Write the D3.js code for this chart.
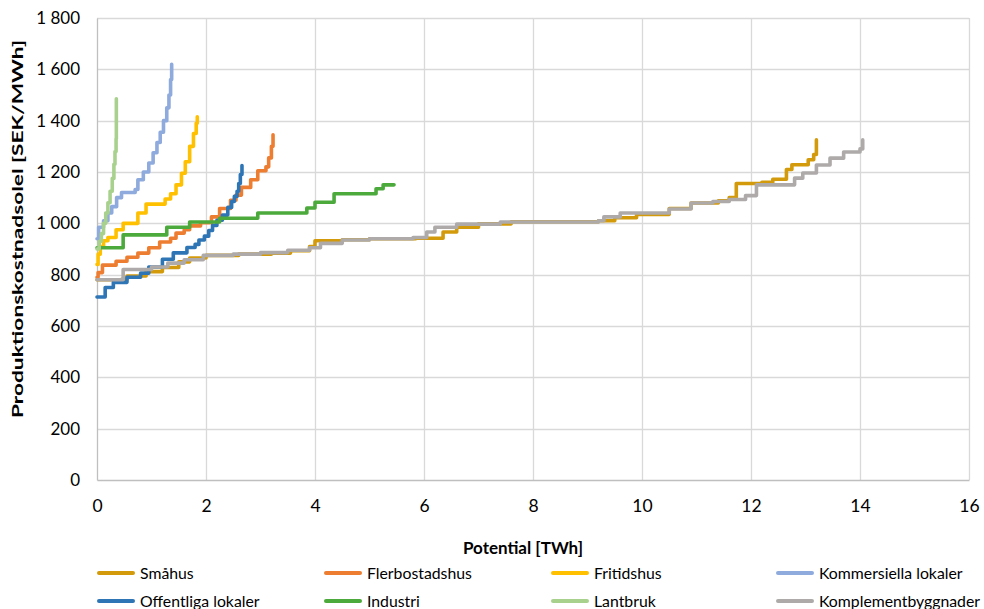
<!DOCTYPE html>
<html>
<head>
<meta charset="utf-8">
<script src="https://cdn.jsdelivr.net/npm/d3@7"></script>
<style>
  body { margin: 0; background: #fff; }
  svg text { font-family: Lato, "Open Sans", sans-serif; fill: #000; }
</style>
</head>
<body>
<svg id="chart" width="984" height="609"></svg>
<script>
// potential [TWh], production cost [SEK/MWh] -- each point starts a step
var smahus = [[0,780],[0.45,782],[0.55,795],[0.9,812],[1.2,828],[1.5,850],[1.7,865],[2.0,875],[2.6,880],[3.2,884],[3.55,893],[3.9,910],[4.0,932],[4.5,936],[5.0,940],[5.85,942],[6.35,966],[6.6,985],[7.0,998],[7.6,1006],[9.2,1010],[9.5,1022],[9.9,1035],[10.5,1058],[10.9,1079],[11.4,1088],[11.6,1100],[11.73,1155],[12.2,1160],[12.4,1172],[12.65,1210],[12.75,1228],[13.05,1248],[13.15,1268],[13.2,1325]];
var flerbostadshus = [[0,790],[0.02,808],[0.1,837],[0.35,852],[0.55,868],[0.75,884],[0.95,905],[1.15,927],[1.35,942],[1.45,962],[1.6,975],[1.7,990],[1.9,1002],[2.1,1025],[2.25,1058],[2.45,1090],[2.55,1110],[2.65,1140],[2.82,1170],[2.95,1205],[3.1,1220],[3.15,1255],[3.2,1300],[3.23,1345]];
var fritidshus = [[0,840],[0.02,880],[0.06,910],[0.12,932],[0.2,945],[0.35,975],[0.48,1000],[0.75,1040],[0.9,1075],[1.25,1095],[1.35,1115],[1.45,1150],[1.55,1195],[1.62,1240],[1.7,1300],[1.77,1350],[1.82,1390],[1.84,1415]];
var kommersiella = [[0,940],[0.03,985],[0.12,1010],[0.2,1040],[0.27,1065],[0.36,1100],[0.45,1120],[0.7,1132],[0.75,1170],[0.85,1200],[0.95,1235],[1.03,1275],[1.1,1315],[1.16,1355],[1.22,1400],[1.28,1450],[1.32,1500],[1.35,1560],[1.37,1620]];
var offentliga = [[0,713],[0.15,750],[0.3,770],[0.55,790],[0.8,806],[0.95,830],[1.2,860],[1.4,885],[1.65,906],[1.8,918],[1.87,935],[1.97,950],[2.05,972],[2.12,992],[2.2,1012],[2.3,1032],[2.4,1062],[2.47,1085],[2.52,1105],[2.57,1125],[2.6,1155],[2.63,1190],[2.66,1225]];
var industri = [[0,905],[0.48,955],[1.28,985],[1.7,1005],[2.25,1020],[2.95,1040],[3.85,1060],[4.0,1082],[4.35,1115],[5.12,1135],[5.25,1150],[5.45,1150]];
var lantbruk = [[0,900],[0.04,930],[0.08,960],[0.12,1000],[0.16,1040],[0.2,1080],[0.24,1125],[0.28,1175],[0.31,1230],[0.33,1280],[0.35,1330],[0.355,1485]];
var komplement = [[0,780],[0.45,780],[0.48,820],[1.0,830],[1.3,845],[1.6,858],[1.95,875],[2.5,880],[3.0,886],[3.5,895],[3.9,905],[4.1,922],[4.5,935],[5.0,940],[5.8,945],[6.05,966],[6.2,985],[6.6,997],[7.4,1005],[9.2,1010],[9.3,1025],[9.6,1040],[10.5,1056],[10.9,1079],[11.3,1085],[11.6,1093],[11.9,1108],[12.1,1150],[12.8,1176],[12.95,1196],[13.2,1227],[13.45,1254],[13.7,1278],[14.0,1290],[14.05,1325]];

var seriesNames = ['Småhus', 'Flerbostadshus', 'Fritidshus', 'Kommersiella lokaler',
  'Offentliga lokaler', 'Industri', 'Lantbruk', 'Komplementbyggnader'];
var seriesValues = [smahus, flerbostadshus, fritidshus, kommersiella,
  offentliga, industri, lantbruk, komplement];
var seriesColors = ['#D39A0B', '#ED7D31', '#FFC000', '#8FAADC',
  '#2E75B6', '#4CAA3C', '#A9D18E', '#AEAAAA'];

var xTicks = [0, 2, 4, 6, 8, 10, 12, 14, 16];
var yTicks = [0, 200, 400, 600, 800, 1000, 1200, 1400, 1600, 1800];

var svg = d3.select('#chart');
var margin = { top: 18, right: 15, bottom: 129, left: 97 };
var width = 984 - margin.left - margin.right;
var height = 609 - margin.top - margin.bottom;

var x = d3.scaleLinear().domain([0, 16]).range([0, width]);
var y = d3.scaleLinear().domain([0, 1800]).range([height, 0]);

var sv = d3.formatLocale({ decimal: ',', thousands: '\u00a0', grouping: [3], currency: ['', ' kr'] });
var fmt = sv.format(',');

var g = svg.append('g').attr('transform', `translate(${margin.left},${margin.top})`);

// grid
g.append('g')
  .selectAll('line')
  .data(yTicks.slice(1))
  .join('line')
  .attr('x1', 0)
  .attr('x2', width)
  .attr('y1', d => Math.round(y(d)) + 0.5)
  .attr('y2', d => Math.round(y(d)) + 0.5)
  .attr('stroke', '#D9D9D9')
  .attr('stroke-width', 1.3);
g.append('g')
  .selectAll('line')
  .data(xTicks.slice(1))
  .join('line')
  .attr('x1', d => Math.round(x(d)) + 0.5)
  .attr('x2', d => Math.round(x(d)) + 0.5)
  .attr('y1', 0)
  .attr('y2', height)
  .attr('stroke', '#D9D9D9')
  .attr('stroke-width', 1.3);

// axes
var xAxis = g.append('g')
  .attr('transform', `translate(0,${height})`)
  .call(d3.axisBottom(x).tickValues(xTicks).tickSize(0).tickPadding(20).tickFormat(d3.format('d')));
xAxis.select('.domain').attr('stroke', '#BFBFBF').attr('stroke-width', 1.3);
xAxis.selectAll('text').attr('font-size', 17.5).attr('font-family', 'Lato, sans-serif');

var yAxis = g.append('g')
  .call(d3.axisLeft(y).tickValues(yTicks).tickSize(0).tickPadding(17).tickFormat(fmt));
yAxis.select('.domain').attr('stroke', '#BFBFBF').attr('stroke-width', 1.3);
yAxis.selectAll('text').attr('font-size', 17).attr('font-family', 'Lato, sans-serif');

// series
var line = d3.line()
  .x(d => x(d[0]))
  .y(d => y(d[1]))
  .curve(d3.curveStepAfter);

g.append('g')
  .selectAll('path')
  .data(seriesValues)
  .join('path')
  .attr('d', line)
  .attr('fill', 'none')
  .attr('stroke', (d, i) => seriesColors[i])
  .attr('stroke-width', 3.6)
  .attr('stroke-linejoin', 'round')
  .attr('stroke-linecap', 'round');

// axis titles
svg.append('text')
  .attr('transform', 'translate(23,229) rotate(-90)')
  .attr('text-anchor', 'middle')
  .attr('font-size', 16)
  .attr('font-weight', 'bold')
  .attr('textLength', 378)
  .attr('lengthAdjust', 'spacingAndGlyphs')
  .text('Produktionskostnadsolel [SEK/MWh]');

svg.append('text')
  .attr('x', 523)
  .attr('y', 554)
  .attr('text-anchor', 'middle')
  .attr('font-size', 17)
  .attr('font-weight', 'bold')
  .text('Potential [TWh]');

// legend, 4 columns x 2 rows
var legendX = [97, 324, 551, 776];
var legendY = [573, 601];
var legend = svg.append('g')
  .selectAll('g')
  .data(seriesNames)
  .join('g')
  .attr('transform', (d, i) => `translate(${legendX[i % 4]},${legendY[Math.floor(i / 4)]})`);
legend.append('line')
  .attr('x1', 2)
  .attr('x2', 36)
  .attr('stroke', (d, i) => seriesColors[i])
  .attr('stroke-width', 4)
  .attr('stroke-linecap', 'round');
legend.append('text')
  .attr('x', 43)
  .attr('dy', '0.36em')
  .attr('font-size', 15.8)
  .text(d => d);
</script>
</body>
</html>
